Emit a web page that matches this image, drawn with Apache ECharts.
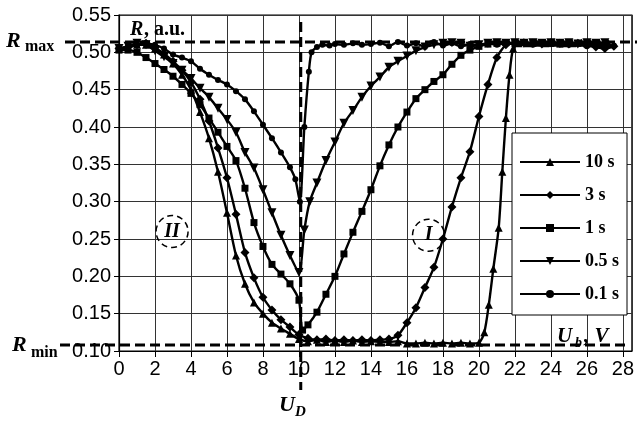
<!DOCTYPE html>
<html>
<head>
<meta charset="utf-8">
<script src="https://cdn.jsdelivr.net/npm/echarts@6/dist/echarts.min.js"></script>
<style>
html, body { margin: 0; padding: 0; background: #fff; }
#chart { width: 637px; height: 421px; }
</style>
</head>
<body>
<div id="chart"></div>
<script>
// series names, in legend order
const names = ['10 s', '3 s', '1 s', '0.5 s', '0.1 s'];

// [U, R]
const r10s = [[0,0.505],[0.5,0.507],[1,0.51],[1.5,0.51],[2,0.505],[2.5,0.497],[3,0.485],[3.5,0.47],[4,0.45],[4.5,0.42],[5,0.385],[5.5,0.34],[6,0.285],[6.5,0.228],[7,0.19],[7.5,0.165],[8,0.15],[8.5,0.138],[9,0.13],[9.5,0.123],[10,0.116],[10.5,0.113],[11,0.115],[11.5,0.112],[12,0.114],[12.5,0.112],[13,0.114],[13.5,0.112],[14,0.113],[14.5,0.112],[15,0.112],[15.5,0.113],[16,0.11],[16.5,0.11],[17,0.111],[17.5,0.11],[18,0.111],[18.5,0.11],[19,0.111],[19.5,0.11],[20,0.111],[20.3,0.125],[20.55,0.162],[20.8,0.21],[21.1,0.265],[21.3,0.34],[21.5,0.412],[21.7,0.47],[21.9,0.505],[22.2,0.512],[22.7,0.512],[23.2,0.513],[23.7,0.512],[24.2,0.513],[24.7,0.512],[25.2,0.512],[25.7,0.513],[26.2,0.512],[26.7,0.513],[27.2,0.512]];
const r3s = [[0,0.505],[0.5,0.507],[1,0.51],[1.5,0.512],[2,0.506],[2.5,0.498],[3,0.488],[3.5,0.476],[4,0.46],[4.5,0.437],[5,0.408],[5.5,0.372],[6,0.332],[6.5,0.283],[7,0.232],[7.5,0.198],[8,0.172],[8.5,0.155],[9,0.142],[9.5,0.132],[10,0.122],[10.5,0.117],[11,0.115],[11.5,0.116],[12,0.114],[12.5,0.115],[13,0.114],[13.5,0.115],[14,0.114],[14.5,0.115],[15,0.116],[15.5,0.121],[16,0.138],[16.5,0.158],[17,0.185],[17.5,0.212],[18,0.25],[18.5,0.293],[19,0.332],[19.5,0.367],[20,0.414],[20.5,0.457],[21,0.493],[21.5,0.51],[22,0.512],[22.5,0.513],[23,0.512],[23.5,0.511],[24,0.513],[24.5,0.512],[25,0.511],[25.5,0.512],[26,0.51],[26.5,0.507],[27,0.505],[27.5,0.508]];
const r1s = [[0,0.503],[0.5,0.503],[1,0.5],[1.5,0.493],[2,0.485],[2.5,0.477],[3,0.468],[3.5,0.457],[4,0.445],[4.5,0.43],[5,0.412],[5.5,0.393],[6,0.374],[6.5,0.355],[7,0.318],[7.5,0.272],[8,0.24],[8.5,0.216],[9,0.203],[9.5,0.19],[10,0.168],[10.2,0.128],[10.5,0.135],[11,0.152],[11.5,0.176],[12,0.2],[12.5,0.23],[13,0.259],[13.5,0.287],[14,0.316],[14.5,0.348],[15,0.376],[15.5,0.4],[16,0.42],[16.5,0.438],[17,0.45],[17.5,0.461],[18,0.47],[18.5,0.484],[19,0.496],[19.5,0.503],[20,0.508],[20.5,0.511],[21,0.512],[21.5,0.513],[22,0.512],[22.5,0.513],[23,0.512],[23.5,0.513],[24,0.512],[24.5,0.511],[25,0.513],[25.5,0.512],[26,0.511],[26.5,0.512],[27,0.51]];
const r05s = [[0,0.505],[0.5,0.508],[1,0.512],[1.5,0.51],[2,0.502],[2.5,0.494],[3,0.485],[3.5,0.476],[4,0.465],[4.5,0.452],[5,0.44],[5.5,0.425],[6,0.41],[6.5,0.393],[7,0.366],[7.5,0.345],[8,0.316],[8.5,0.285],[9,0.255],[9.5,0.228],[10,0.205],[10.3,0.262],[10.6,0.3],[11,0.325],[11.5,0.355],[12,0.38],[12.5,0.405],[13,0.422],[13.5,0.44],[14,0.455],[14.5,0.467],[15,0.48],[15.5,0.488],[16,0.495],[16.5,0.502],[17,0.507],[17.5,0.51],[18,0.512],[18.5,0.513],[19,0.512],[19.5,0.508],[20,0.51],[20.5,0.512],[21,0.513],[21.5,0.512],[22,0.513],[22.5,0.512],[23,0.513],[23.5,0.512],[24,0.513],[24.5,0.512],[25,0.513],[25.5,0.511],[26,0.513],[26.5,0.512],[27,0.513]];
const r01s = [[0,0.505],[0.5,0.507],[1,0.51],[1.5,0.512],[2,0.51],[2.5,0.505],[3,0.497],[3.5,0.493],[4,0.488],[4.5,0.478],[5,0.47],[5.5,0.463],[6,0.457],[6.5,0.448],[7,0.437],[7.5,0.421],[8,0.403],[8.5,0.385],[9,0.366],[9.5,0.346],[9.8,0.33],[10.05,0.3],[10.3,0.4],[10.55,0.474],[10.7,0.5],[11,0.507],[11.3,0.51],[11.7,0.509],[12,0.511],[12.5,0.51],[13,0.512],[13.5,0.51],[14,0.511],[14.5,0.513],[15,0.508],[15.5,0.514],[16,0.509],[16.5,0.512],[17,0.507],[17.5,0.514],[18,0.509],[18.5,0.512],[19,0.508],[19.5,0.511],[20,0.509],[20.5,0.512],[21,0.51],[21.5,0.513],[22,0.511],[22.5,0.512],[23,0.51],[23.5,0.513],[24,0.511],[24.5,0.513],[25,0.51],[25.5,0.512],[26,0.508],[26.5,0.51],[27,0.507],[27.5,0.509]];

// reference levels
const rMax = 0.514;
const rMin = 0.108;
const uD = 10.1;

const seriesData = [r10s, r3s, r1s, r05s, r01s];
const symbols = ['triangle', 'diamond', 'rect', 'path://M0,0 L10,0 L5,9 Z', 'circle'];
const symbolSizes = [8, 9, 7, 9, 6];

const sans = '"Liberation Sans", Arial, sans-serif';
const serif = '"Liberation Serif", "Times New Roman", serif';

const chart = echarts.init(document.getElementById('chart'));

const option = {
    backgroundColor: '#fff',
    animation: false,
    grid: {
        left: 119, right: 3, top: 15, bottom: 70,
        show: true, borderColor: '#000', borderWidth: 1.2
    },
    legend: {
        data: names,
        orient: 'vertical',
        left: 512, top: 133,
        padding: [20, 8, 12, 7],
        itemGap: 15,
        itemWidth: 60,
        itemHeight: 10,
        backgroundColor: '#fff',
        borderColor: '#000',
        borderWidth: 1,
        textStyle: { fontFamily: serif, fontWeight: 'bold', fontSize: 18, color: '#000' }
    },
    xAxis: {
        type: 'value', min: 0, max: 28.5, interval: 2,
        axisLine: { lineStyle: { color: '#000', width: 1.2 } },
        axisTick: { show: true, length: 6, lineStyle: { color: '#000' } },
        axisLabel: { showMaxLabel: false, fontFamily: sans, fontSize: 20, color: '#000', margin: 8 },
        splitLine: { show: true, lineStyle: { color: '#333', width: 1 } }
    },
    yAxis: {
        type: 'value', min: 0.1, max: 0.55, interval: 0.05,
        axisLine: { show: true, lineStyle: { color: '#000', width: 1.2 } },
        axisTick: { show: true, length: 5, lineStyle: { color: '#000' } },
        axisLabel: {
            fontFamily: sans, fontSize: 20, color: '#000', margin: 8,
            formatter: v => v.toFixed(2)
        },
        splitLine: { show: true, lineStyle: { color: '#333', width: 1 } }
    },
    series: names.map((n, i) => ({
        name: n,
        type: 'line',
        data: seriesData[i],
        smooth: 0.25,
        symbol: symbols[i],
        symbolSize: symbolSizes[i],
        showAllSymbol: true,
        lineStyle: { color: '#000', width: 2.4 },
        itemStyle: { color: '#000', borderWidth: 0 },
        z: 3
    }))
};
chart.setOption(option);

// decorations placed from data coordinates
const px = (x, y) => chart.convertToPixel({ gridIndex: 0 }, [x, y]);
const pMax = px(0, rMax);
const pMin = px(28, rMin);
const pD = px(uD, 0.1);
const pII = px(2.95, 0.26);
const pI = px(17.2, 0.255);
const dash = { stroke: '#000', lineWidth: 3, lineDash: [10, 5] };

chart.setOption({
    graphic: [
        { type: 'line', z: 10, shape: { x1: 65, y1: pMax[1], x2: 637, y2: pMax[1] }, style: dash },
        { type: 'line', z: 10, shape: { x1: 60, y1: pMin[1], x2: pMin[0] + 4, y2: pMin[1] }, style: dash },
        { type: 'line', z: 10, shape: { x1: pD[0], y1: 22, x2: pD[0], y2: 390 }, style: dash },
        { type: 'circle', z: 10, shape: { cx: pII[0], cy: pII[1], r: 16 },
          style: { fill: 'none', stroke: '#000', lineWidth: 1.5, lineDash: [6, 4] } },
        { type: 'circle', z: 10, shape: { cx: pI[0], cy: pI[1], r: 16 },
          style: { fill: 'none', stroke: '#000', lineWidth: 1.5, lineDash: [6, 4] } },
        { type: 'text', z: 11, style: { text: 'II', x: pII[0], y: pII[1], align: 'center', verticalAlign: 'middle',
          font: 'italic bold 20px ' + serif, fill: '#000' } },
        { type: 'text', z: 11, style: { text: 'I', x: pI[0], y: pI[1], align: 'center', verticalAlign: 'middle',
          font: 'italic bold 20px ' + serif, fill: '#000' } },
        { type: 'text', z: 11, style: { text: 'R', x: 6, y: 30, font: 'italic bold 22px ' + serif, fill: '#000' } },
        { type: 'text', z: 11, style: { text: 'max', x: 25, y: 39, font: 'bold 16px ' + serif, fill: '#000' } },
        { type: 'text', z: 11, style: { text: 'R', x: 12, y: 334, font: 'italic bold 22px ' + serif, fill: '#000' } },
        { type: 'text', z: 11, style: { text: 'min', x: 31, y: 345, font: 'bold 16px ' + serif, fill: '#000' } },
        { type: 'text', z: 11, style: { text: 'R', x: 130, y: 20, font: 'italic bold 20px ' + serif, fill: '#000' } },
        { type: 'text', z: 11, style: { text: ', a.u.', x: 144, y: 20, font: 'bold 20px ' + serif, fill: '#000' } },
        { type: 'text', z: 11, style: { text: 'U', x: 279, y: 394, font: 'italic bold 22px ' + serif, fill: '#000' } },
        { type: 'text', z: 11, style: { text: 'D', x: 295, y: 405, font: 'italic bold 15px ' + serif, fill: '#000' } },
        { type: 'text', z: 11, style: { text: 'U', x: 557, y: 326, font: 'italic bold 21px ' + serif, fill: '#000' } },
        { type: 'text', z: 11, style: { text: 'b', x: 575, y: 336, font: 'italic bold 14px ' + serif, fill: '#000' } },
        { type: 'text', z: 11, style: { text: ', V', x: 584, y: 326, font: 'italic bold 21px ' + serif, fill: '#000' } }
    ]
});
</script>
</body>
</html>
